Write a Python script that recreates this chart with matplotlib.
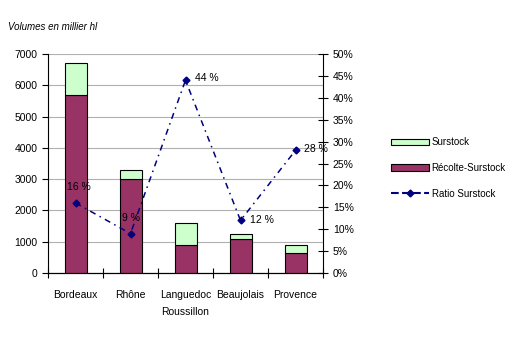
import numpy as np
import matplotlib
matplotlib.use("Agg")
import matplotlib.pyplot as plt
from matplotlib.patches import Patch
from matplotlib.lines import Line2D

plt.rcParams['font.family'] = ['Liberation Sans', 'DejaVu Sans']

regions = ["Bordeaux", "Rhône", "Languedoc\nRoussillon", "Beaujolais", "Provence"]
recolte = [5700, 3000, 900, 1100, 650]
surstock = [1000, 300, 700, 150, 250]
ratio = [16, 9, 44, 12, 28]
ratio_labels = ["16 %", "9 %", "44 %", "12 %", "28 %"]

fig = plt.figure(figsize=(5.24, 3.4), dpi=100)
ax = fig.add_axes([48 / 524, 67 / 340, 275 / 524, 219 / 340])
x = np.arange(len(regions))

# barres empilées
ax.bar(x, recolte, width=0.4, color="#993366", edgecolor="black", linewidth=0.8, zorder=3)
ax.bar(x, surstock, width=0.4, bottom=recolte, color="#ccffcc", edgecolor="black", linewidth=0.8, zorder=3)

ax.set_xlim(-0.5, len(regions) - 0.5)
ax.set_ylim(0, 7000)
ax.set_yticks(range(0, 7001, 1000))
ax.yaxis.grid(True, color="#b0b0b0", linewidth=0.8, zorder=0)
ax.set_xticks(np.arange(-0.5, len(regions), 1))
ax.set_xticklabels([])
ax.set_xticks(x, minor=True)
ax.set_xticklabels(regions, minor=True, fontsize=7.5, linespacing=1.9)
ax.tick_params(axis="x", which="major", direction="inout", length=7, width=0.8)
ax.tick_params(axis="x", which="minor", length=0, pad=12)
ax.tick_params(axis="y", direction="out", length=4, labelsize=7.5, width=0.8)
for s in ["top", "right"]:
    ax.spines[s].set_visible(False)

fig.text(8 / 524, 1 - 27 / 340, "Volumes en millier hl", fontsize=7, style="italic", ha="left", va="center")

# ratio sur axe secondaire
ax2 = ax.twinx()
ax2.plot(x, ratio, color="#000080", linestyle=(0, (4, 3, 1, 3)), linewidth=1.1,
         marker="D", markersize=3.5, zorder=4)
ax2.set_ylim(0, 50)
ax2.set_yticks(range(0, 51, 5))
ax2.set_yticklabels([f"{v}%" for v in range(0, 51, 5)])
ax2.tick_params(axis="y", direction="inout", length=7, labelsize=7.5, width=0.8)
for s in ["top", "left"]:
    ax2.spines[s].set_visible(False)

offsets = [(-6, 11.5), (-6, 11.5), (6.5, 1.4), (6.5, 0), (6, 1)]
for xi, r, lab, off in zip(x, ratio, ratio_labels, offsets):
    ax2.annotate(lab, (xi, r), xytext=off, textcoords="offset points",
                 fontsize=7.5, ha="left", va="center")

handles = [Patch(facecolor="#ccffcc", edgecolor="black", linewidth=0.8),
           Patch(facecolor="#993366", edgecolor="black", linewidth=0.8),
           Line2D([], [], color="#000080", linestyle="--", linewidth=1.5, marker="D", markersize=3.5)]
fig.legend(handles, ["Surstock", "Récolte-Surstock", "Ratio Surstock"],
           loc="center left", bbox_to_anchor=(382 / 524, 1 - 168 / 340), frameon=False,
           fontsize=7, handlelength=3.9, handleheight=0.6, labelspacing=1.6, handletextpad=0.3)

fig.savefig("out.png", dpi=100)
